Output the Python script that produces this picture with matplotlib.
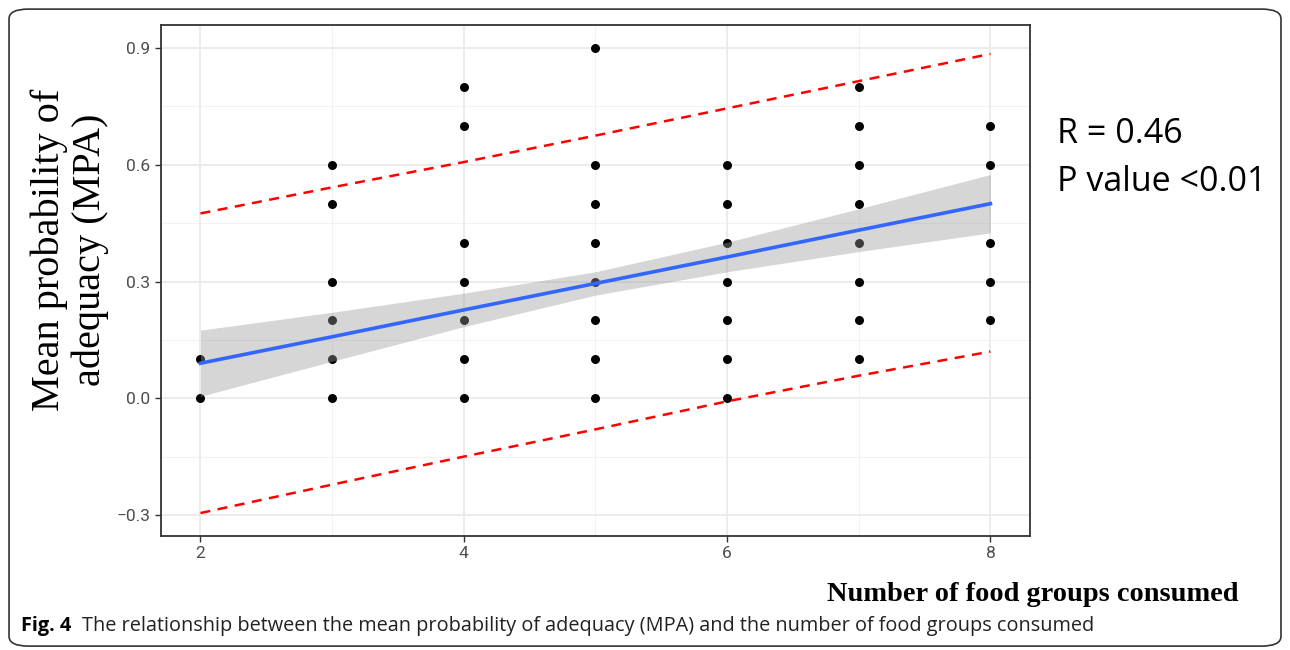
import numpy as np
import matplotlib
matplotlib.use("Agg")
from matplotlib import pyplot as plt
from matplotlib.patches import FancyBboxPatch

# data
food_groups = [2, 2,
               3, 3, 3, 3, 3, 3,
               4, 4, 4, 4, 4, 4, 4,
               5, 5, 5, 5, 5, 5, 5, 5,
               6, 6, 6, 6, 6, 6, 6,
               7, 7, 7, 7, 7, 7, 7, 7,
               8, 8, 8, 8, 8]
mpa = [0.0, 0.1,
       0.0, 0.1, 0.2, 0.3, 0.5, 0.6,
       0.0, 0.1, 0.2, 0.3, 0.4, 0.7, 0.8,
       0.0, 0.1, 0.2, 0.3, 0.4, 0.5, 0.6, 0.9,
       0.0, 0.1, 0.2, 0.3, 0.4, 0.5, 0.6,
       0.1, 0.2, 0.3, 0.4, 0.5, 0.6, 0.7, 0.8,
       0.2, 0.3, 0.4, 0.6, 0.7]

fit_x = [2, 3, 4, 5, 6, 7, 8]
fit_y = [0.09, 0.158, 0.227, 0.295, 0.363, 0.432, 0.50]
ci_low = [0.005, 0.095, 0.184, 0.265, 0.325, 0.377, 0.425]
ci_high = [0.175, 0.221, 0.270, 0.325, 0.401, 0.487, 0.575]
pred_low = [-0.295, -0.222, -0.150, -0.080, -0.008, 0.058, 0.12]
pred_high = [0.475, 0.542, 0.607, 0.675, 0.745, 0.815, 0.885]

x_ticks = [2, 4, 6, 8]
y_ticks = [-0.3, 0.0, 0.3, 0.6, 0.9]
y_tick_labels = ["\u22120.3", "0.0", "0.3", "0.6", "0.9"]

fig = plt.figure(figsize=(12.9, 6.5), dpi=100)
ax = fig.add_axes([0.1248, 0.1754, 0.6736, 0.786])

# grid
for v in [3, 5, 7]:
    ax.axvline(v, color="#f2f2f2", lw=0.8, zorder=0)
for v in [-0.15, 0.15, 0.45, 0.75]:
    ax.axhline(v, color="#f2f2f2", lw=0.8, zorder=0)
for v in x_ticks:
    ax.axvline(v, color="#ebebeb", lw=1.3, zorder=0)
for v in y_ticks:
    ax.axhline(v, color="#ebebeb", lw=1.3, zorder=0)

ax.scatter(food_groups, mpa, s=42, color="black", zorder=2, linewidths=0)
ax.fill_between(fit_x, ci_low, ci_high, color="#999999", alpha=0.4, lw=0, zorder=3)
ax.plot(fit_x, fit_y, color="#3366ff", lw=2.6, zorder=4)
ax.plot(fit_x, pred_low, color="red", lw=1.8, ls=(0, (4, 3)), zorder=4)
ax.plot(fit_x, pred_high, color="red", lw=1.8, ls=(0, (4, 3)), zorder=4)

ax.set_xlim(1.70, 8.30)
ax.set_ylim(-0.354, 0.959)
ax.set_xticks(x_ticks)
ax.set_yticks(y_ticks)
ax.set_yticklabels(y_tick_labels)
ax.tick_params(labelsize=12.5, labelcolor="#4d4d4d", color="#333333",
               length=4, width=1)
for lab in ax.get_xticklabels() + ax.get_yticklabels():
    lab.set_family(["Liberation Sans Narrow", "Roboto", "DejaVu Sans"])
for s in ax.spines.values():
    s.set_color("#333333")
    s.set_linewidth(1.3)

fig.text(0.054, 0.615, "Mean probability of\nadequacy (MPA)", rotation=90,
         ha="center", va="center", family="Liberation Serif", fontsize=29,
         linespacing=1.12)
fig.text(0.96, 0.075, "Number of food groups consumed", ha="right",
         va="baseline", family="Liberation Serif", weight="bold", fontsize=20.4)

fig.text(0.819, 0.78, "R = 0.46", family="Open Sans", fontsize=24.5,
         va="baseline")
fig.text(0.819, 0.706, "P value <0.01", family="Open Sans", fontsize=24.5,
         va="baseline")

fig.text(0.016, 0.03, "Fig. 4", family="Open Sans", weight="bold",
         fontsize=14.3, va="baseline")
fig.text(0.0635, 0.03,
         "The relationship between the mean probability of adequacy (MPA) "
         "and the number of food groups consumed",
         family="Open Sans", fontsize=14.3, va="baseline", color="#222222")

border = FancyBboxPatch((0.007, 0.006), 0.986, 0.98,
                        boxstyle="round,pad=0,rounding_size=0.015",
                        transform=fig.transFigure, fill=False,
                        edgecolor="#333333", lw=1.2)
fig.patches.append(border)

fig.savefig("out.png", dpi=100)
